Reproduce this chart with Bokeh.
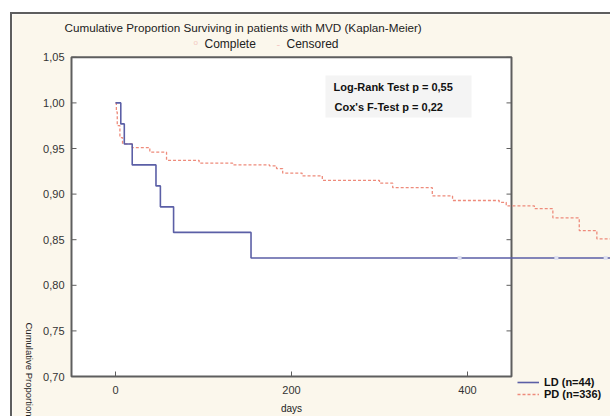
import math
from bokeh.plotting import figure
from bokeh.models import Label, Range1d, Legend, LegendItem
from bokeh.core.properties import value
from bokeh.embed import file_html
from bokeh.resources import INLINE

# ---------------- data ----------------
chart_title = "Cumulative Proportion Surviving in patients with MVD (Kaplan-Meier)"
x_ticks = [0, 200, 400]
x_tick_labels = ["0", "200", "400"]
y_ticks = [0.70, 0.75, 0.80, 0.85, 0.90, 0.95, 1.00, 1.05]
y_tick_labels = ["0,70", "0,75", "0,80", "0,85", "0,90", "0,95", "1,00", "1,05"]
x_axis_title = "days"
y_axis_title = "Cumulative Proportion"

ld_days = [0, 6, 10, 19, 46, 51, 66, 154, 564]
ld_surv = [1.0, 0.977, 0.955, 0.932, 0.909, 0.886, 0.858, 0.830, 0.830]
ld_censored_days = [391, 501, 557]
ld_censored_surv = [0.830, 0.830, 0.830]

pd_days = [0, 1, 2, 5, 8, 19, 39, 58, 95, 133, 175, 183, 190, 212, 235, 300, 315,
           360, 383, 436, 444, 476, 497, 527, 547, 564]
pd_surv = [1.0, 0.99, 0.975, 0.962, 0.955, 0.951, 0.946, 0.937, 0.934, 0.932, 0.931,
           0.928, 0.923, 0.920, 0.915, 0.912, 0.907, 0.898, 0.893, 0.891, 0.887,
           0.884, 0.874, 0.860, 0.851, 0.848]

ld_label = "LD (n=44)"
pd_label = "PD (n=336)"
stats_lines = ["Log-Rank Test p = 0,55", "Cox's F-Test  p = 0,22"]

# ---------------- layout / styling ----------------
BEIGE = "#FBF7EC"
BORDER = "#5e5e5e"
LD_COLOR = "#5b5fa6"
PD_COLOR = "#ee8b7b"
FONT = "Liberation Sans"
PX_PER_DAY = 0.88
PX_PER_VAL = 912.0
ORIG_X, ORIG_Y = 116, 376   # window pixel of (day 0, 0.70)
CANVAS_X, CANVAS_Y = 13, 14  # window pixel of the canvas' top-left corner
W, H = 600, 404


def dx(xw):  # window pixel -> data x
    return (xw - ORIG_X) / PX_PER_DAY


def dy(yw):  # window pixel -> data y
    return y_ticks[0] + (ORIG_Y - yw) / PX_PER_VAL


p = figure(width=W, height=H,
           x_range=Range1d(dx(CANVAS_X), dx(CANVAS_X + W)),
           y_range=Range1d(dy(CANVAS_Y + H), dy(CANVAS_Y)),
           x_axis_location=None, y_axis_location=None,
           output_backend="svg", toolbar_location=None,
           min_border=0, min_border_left=0, min_border_right=0,
           min_border_top=0, min_border_bottom=0,
           background_fill_color=BEIGE, border_fill_color=BEIGE, outline_line_color=None)
p.margin = (12, 0, 0, 10)
p.styles = {"border-top": "2px solid " + BORDER, "border-left": "2px solid " + BORDER}
p.grid.visible = False

xl, xr = x_ticks[0] - 50, x_ticks[-1] + 50
yb, yt = y_ticks[0], y_ticks[-1]
tick_dx = 5 / PX_PER_DAY
tick_dy = 5 / PX_PER_VAL

# white plot area with frame
p.quad(left=xl, right=xr, bottom=yb, top=yt,
       fill_color="white", line_color=BORDER, line_width=2)

# ticks (inward) on left, right and bottom
n = len(y_ticks)
p.segment(x0=[xl] * n, x1=[xl + tick_dx] * n, y0=y_ticks, y1=y_ticks,
          line_color=BORDER, line_width=1)
p.segment(x0=[xr - tick_dx] * n, x1=[xr] * n, y0=y_ticks, y1=y_ticks,
          line_color=BORDER, line_width=1)
p.segment(x0=x_ticks, x1=x_ticks, y0=[yb] * len(x_ticks), y1=[yb + tick_dy] * len(x_ticks),
          line_color=BORDER, line_width=1)

# tick labels
p.text(x=[xl - 7 / PX_PER_DAY] * n, y=y_ticks, text=y_tick_labels,
       text_align="right", text_baseline="middle", text_font=value(FONT),
       text_font_size="11px", text_color="#333333")
p.text(x=x_ticks, y=[yb - 13 / PX_PER_VAL] * len(x_ticks), text=x_tick_labels,
       text_align="center", text_baseline="middle", text_font=value(FONT),
       text_font_size="11px", text_color="#333333")

# faint box behind test statistics
p.quad(left=dx(326), right=dx(472), bottom=dy(117), top=dy(75),
       fill_color="#f4f4f4", line_color=None)

pd_r = p.step(pd_days, pd_surv, mode="after", line_color=PD_COLOR, line_width=1.3,
              line_dash="3 2")
ld_r = p.step(ld_days, ld_surv, mode="after", line_color=LD_COLOR, line_width=1.6)
p.scatter(ld_censored_days, ld_censored_surv, marker="square", size=4,
          fill_color="#dfe1f0", line_color=None)


def lab(text, xw, yw, size="10px", bold=False, color="#222222", align="left", angle=0.0):
    p.add_layout(Label(x=dx(xw), y=dy(yw), text=text, text_font=FONT,
                       text_font_size=size, text_font_style="bold" if bold else "normal",
                       text_color=color, text_align=align, text_baseline="middle",
                       angle=angle))


lab(chart_title, 65, 27, size="11.7px")
lab("o", 194, 42, size="8px", color="#f3c9c1")
lab("Complete", 205, 43, size="12px")
lab("-", 277, 43, size="11px", color="#f3c9c1")
lab("Censored", 287, 43, size="12px")
lab(stats_lines[0], 334, 86, size="11px", bold=True, color="#111111")
lab(stats_lines[1], 335, 106, size="11px", bold=True, color="#111111")
lab(x_axis_title, 292, 408, size="10px", align="center")
lab(y_axis_title, 30, 322, size="9.5px", angle=-math.pi / 2)

legend = Legend(items=[LegendItem(label=ld_label, renderers=[ld_r]),
                       LegendItem(label=pd_label, renderers=[pd_r])],
                location=(518 - CANVAS_X, CANVAS_Y + H - 400), background_fill_alpha=0,
                border_line_color=None, padding=0, margin=0, spacing=0,
                glyph_width=22, glyph_height=12, label_height=12, label_standoff=5,
                label_text_font=FONT, label_text_font_size="11px",
                label_text_font_style="bold", label_text_color="#111111")
p.add_layout(legend)

open("out.html", "w").write(file_html(p, INLINE))
